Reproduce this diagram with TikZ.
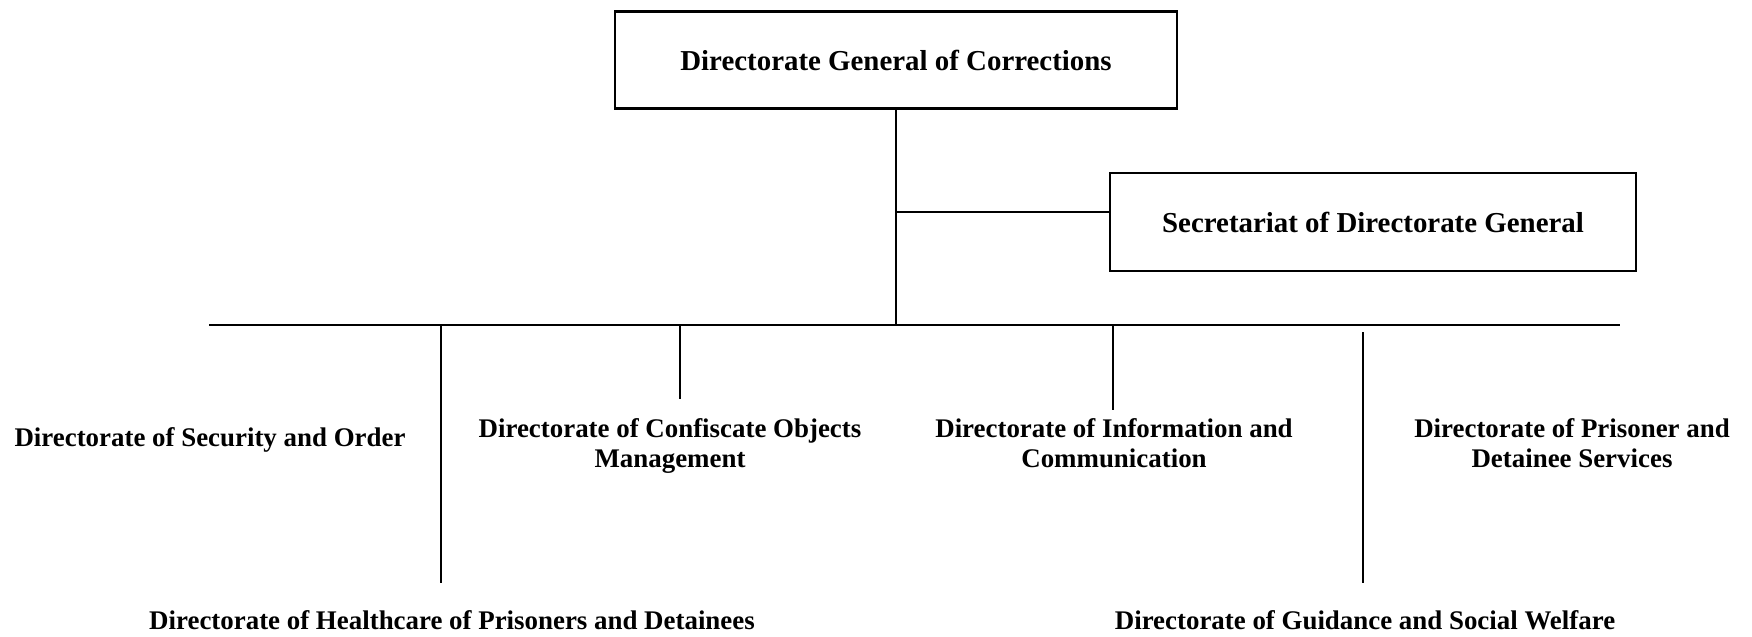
\documentclass[tikz,border=0pt]{standalone}
\usepackage{fontspec}
\setmainfont{Liberation Serif}
\usetikzlibrary{positioning}

\begin{document}
\begin{tikzpicture}[x=1bp, y=1bp, line width=2.2bp,
        box/.style={draw, rectangle, line width=2.2bp, font=\bfseries\fontsize{29}{32}\selectfont},
        unit/.style={align=center, inner sep=0pt, font=\bfseries\fontsize{27}{30}\selectfont}]
        \useasboundingbox (0,0) rectangle (1752,-637);

            % Nodes
            \node [box, minimum width=562bp, minimum height=97bp] (DGC) at (896,-60) {Directorate General of Corrections};
            \node [box, minimum width=526bp, minimum height=98bp] (Secretariat) at (1373,-222) {Secretariat of Directorate General};

            % Directorates
            \node [unit] (Security) at (210,-440) {Directorate of Security and Order};
            \node [unit] (Confiscate) at (670,-446) {Directorate of Confiscate Objects\\Management};
            \node [unit] (Information) at (1114,-443) {Directorate of Information and\\Communication};
            \node [unit] (Prisoner) at (1572,-443) {Directorate of Prisoner and\\Detainee Services};
            \node [unit] (Healthcare) at (452,-620) {Directorate of Healthcare of Prisoners and Detainees};
            \node [unit] (Guidance) at (1365,-620) {Directorate of Guidance and Social Welfare};

            % Bus and line ends
            \coordinate (Branch) at (896,-212);
            \coordinate (Bus) at (896,-325);
            \coordinate (BusW) at (209,-325);
            \coordinate (BusE) at (1620,-325);
            \coordinate (HealthTop) at (441,-583);
            \coordinate (ConfTop) at (680,-399);
            \coordinate (InfoTop) at (1113,-410);
            \coordinate (GuidStart) at (1363,-332);
            \coordinate (GuidTop) at (1363,-583);

            % Connections (Lines)
            \draw (DGC.south) -- (Bus);
            \draw (Branch) -- (Branch -| Secretariat.west);
            \draw (BusW) -- (BusE);
            \draw (HealthTop |- Bus) -- (HealthTop);
            \draw (ConfTop |- Bus) -- (ConfTop);
            \draw (InfoTop |- Bus) -- (InfoTop);
            \draw (GuidStart) -- (GuidTop);

        \end{tikzpicture}
\end{document}
